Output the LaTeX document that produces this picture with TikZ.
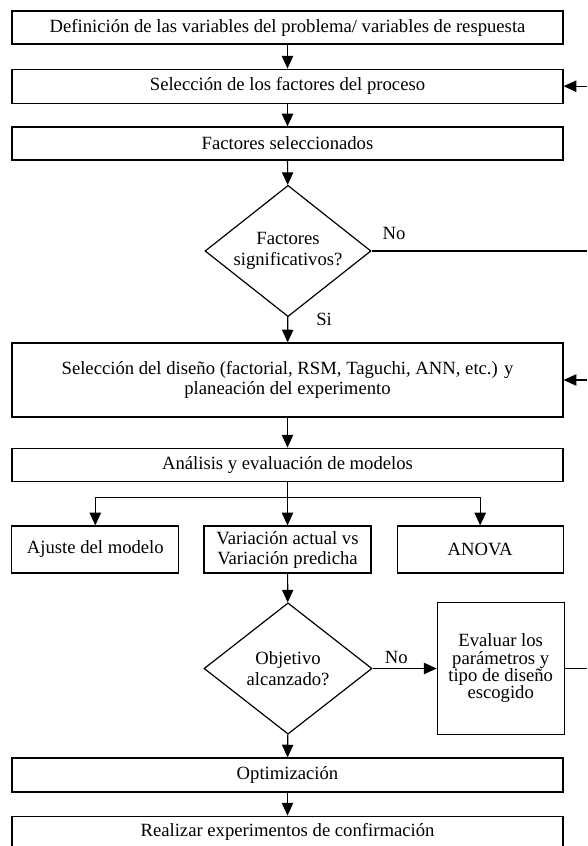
\documentclass[tikz,border=0pt]{standalone}
\usepackage{fontspec}
\setmainfont{Liberation Serif}
\usetikzlibrary{positioning,arrows.meta,shapes.geometric}
\tikzstyle{fbox}=[rectangle, draw=black, line width=0.9pt, minimum width=413.25pt,
                  minimum height=24.75pt, inner sep=2pt, align=center]
\tikzstyle{sbox}=[rectangle, draw=black, line width=0.9pt, minimum width=125.25pt,
                  minimum height=35.25pt, inner sep=0pt, align=center]
\tikzstyle{dbox}=[diamond, draw=black, line width=0.9pt, minimum width=124.5pt,
                  minimum height=98.5pt, inner sep=0pt, aspect=1.25, align=center]
\tikzstyle{plabel}=[inner sep=0pt]
\tikzstyle{pline}=[-, line width=0.9pt]
\tikzstyle{parrow}=[-{Triangle[length=9.5pt,width=8.5pt]}, line width=0.9pt]

\begin{document}
\begin{tikzpicture}[x=0.75pt, y=-0.75pt, font=\fontsize{14}{15.5}\selectfont]
\useasboundingbox (0,0) rectangle (587,846);

\node (def) [fbox] at (287.5,27.5) {Definición de las variables del problema/ variables de respuesta};
\node (selfac) [fbox, minimum height=25.5pt, below=18pt of def] {Selección de los factores del proceso};
\node (facsel) [fbox] at (287.5,143.5) {Factores seleccionados};
\node (sig) [dbox] at (288,251) {Factores\\significativos?};
\node (seldis) [fbox, minimum height=55.5pt] at (287.5,380) 
  {Selección del diseño (factorial, RSM, Taguchi, ANN, etc.) y\\planeación del experimento};
\node (ana) [fbox, below=22.5pt of seldis] {Análisis y evaluación de modelos};

\node (var) [sbox, font=\fontsize{14}{15}\selectfont] at (287.5,549.5) {Variación actual vs\\Variación predicha};
\node (aju) [sbox, left=18pt of var] {Ajuste del modelo};
\node (anova) [sbox, minimum width=124.5pt, right=18.75pt of var] {ANOVA};

\node (obj) [dbox, minimum width=126pt] at (288,668.5) {Objetivo\\alcanzado?};
\node (eval) [rectangle, draw=black, line width=0.9pt, minimum width=95.25pt, minimum height=99pt,
  inner sep=1pt, align=center, font=\fontsize{14}{13}\selectfont, right=48pt of obj]
  {Evaluar los\\parámetros y\\tipo de diseño\\escogido};
\node (opt) [fbox, minimum height=25.5pt] at (287.5,775) {Optimización};
\node (conf) [fbox, minimum height=24pt, below=17.25pt of opt] {Realizar experimentos de confirmación};

% labels on the decisions
\node (no1) [plabel, above right=8pt and 8pt of sig.east] {No};
\node (si1) [plabel, below right=-3.4pt and 21pt of sig.south] {Si};
\node (no2) [plabel, above right=3.75pt and 9pt of obj.east] {No};

% free ends at the right border
\coordinate (rim) at (587,0);
\coordinate (fbsig) at (sig.east -| rim);
\coordinate (fbfac) at (selfac.east -| rim);
\coordinate (fbeval) at (eval.east -| rim);
\coordinate (fbdis) at (seldis.east -| rim);

\draw[parrow] (def) -- (selfac);
\draw[parrow] (selfac) -- (facsel);
\draw[parrow] (facsel) -- (sig);
\draw[parrow] (sig) -- (seldis);
\draw[parrow] (seldis) -- (ana);
\draw[parrow] (ana) -- (var);
\draw[parrow] (ana.south) -- ++(0,-12pt) -| (aju.north);
\draw[parrow] (ana.south) -- ++(0,-12pt) -| (anova.north);
\draw[parrow] (var) -- (obj);
\draw[parrow] (obj) -- (opt);
\draw[parrow] (opt) -- (conf);
\draw[parrow] (obj) -- (eval);

\draw[pline] (sig.east) -- (fbsig);
\draw[parrow] (fbfac) -- (selfac.east);
\draw[pline] (eval.east) -- (fbeval);
\draw[parrow] (fbdis) -- (seldis.east);

\end{tikzpicture}
\end{document}
